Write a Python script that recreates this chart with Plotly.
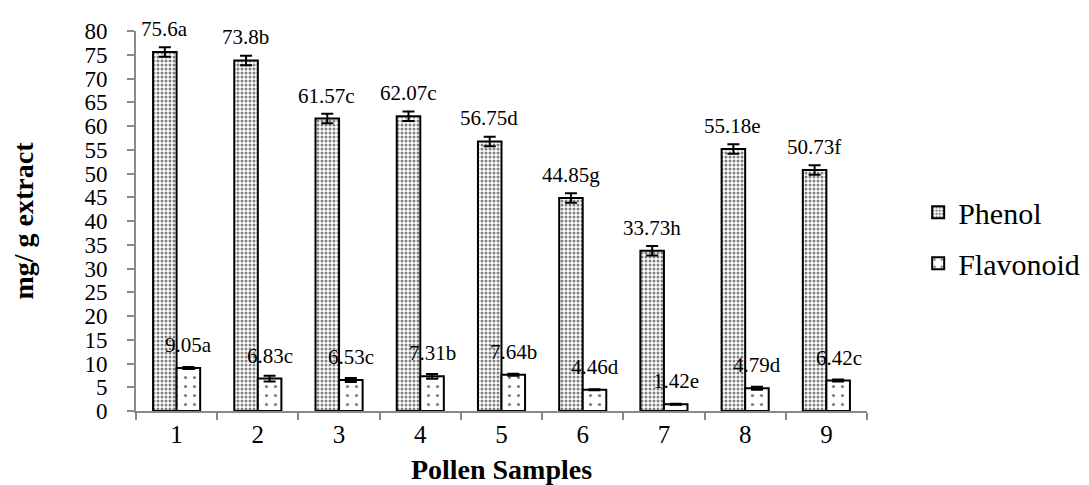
import plotly.graph_objects as go

samples = ["1", "2", "3", "4", "5", "6", "7", "8", "9"]
phenol = [75.6, 73.8, 61.57, 62.07, 56.75, 44.85, 33.73, 55.18, 50.73]
phenol_err = [1.0, 1.0, 1.0, 1.0, 1.0, 1.0, 1.0, 1.0, 1.0]
phenol_letters = ["a", "b", "c", "c", "d", "g", "h", "e", "f"]
flavonoid = [9.05, 6.83, 6.53, 7.31, 7.64, 4.46, 1.42, 4.79, 6.42]
flavonoid_err = [0.2, 0.6, 0.4, 0.5, 0.2, 0.1, 0.1, 0.3, 0.2]
flavonoid_letters = ["a", "c", "c", "b", "b", "d", "e", "d", "c"]
y_ticks = list(range(0, 81, 5))

FONT = "Liberation Serif"

fig = go.Figure()
fig.add_trace(go.Bar(
    name="Phenol", x=samples, y=phenol, legendgroup="p",
    error_y=dict(type="data", array=phenol_err, color="black", thickness=2, width=6),
    marker=dict(color="white", line=dict(color="black", width=2),
                pattern=dict(shape=".", fgcolor="black", bgcolor="white",
                             size=4, solidity=0.45, fillmode="overlay")),
))
fig.add_trace(go.Bar(
    name="Flavonoid", x=samples, y=flavonoid, legendgroup="f",
    error_y=dict(type="data", array=flavonoid_err, color="black", thickness=2, width=6),
    marker=dict(color="white", line=dict(color="black", width=2),
                pattern=dict(shape=".", fgcolor="black", bgcolor="white",
                             size=9, solidity=0.1, fillmode="overlay")),
))

annotations = []
for i, (v, l) in enumerate(zip(phenol, phenol_letters)):
    annotations.append(dict(x=i, y=v, xref="x", yref="y", text=f"{v:g}{l}",
                            showarrow=False, xshift=-12.2, yshift=23, yanchor="middle",
                            font=dict(family=FONT, size=21, color="black")))
for i, (v, l) in enumerate(zip(flavonoid, flavonoid_letters)):
    annotations.append(dict(x=i, y=v, xref="x", yref="y", text=f"{v:g}{l}",
                            showarrow=False, xshift=12.2, yshift=23, yanchor="middle",
                            font=dict(family=FONT, size=21, color="black")))

fig.update_layout(
    width=1089, height=485,
    margin=dict(l=128, r=211, t=23, b=82),
    paper_bgcolor="white", plot_bgcolor="white",
    barmode="group", bargap=0.42, bargroupgap=0,
    font=dict(family=FONT, color="black"),
    annotations=annotations,
    legend=dict(x=1.07, y=0.456, xanchor="left", yanchor="middle",
                font=dict(family=FONT, size=30, color="black"),
                tracegroupgap=9,
                bgcolor="rgba(0,0,0,0)"),
    xaxis=dict(
        type="category", range=[-0.5, 8.5], automargin=False,
        showline=True, linecolor="#898989", linewidth=2,
        ticks="outside", tickson="boundaries", ticklen=7, tickcolor="#898989", tickwidth=2,
        tickfont=dict(family=FONT, size=25, color="black"),
        title=dict(text="<b>Pollen Samples</b>", font=dict(family=FONT, size=28, color="black"), standoff=12),
        showgrid=False, zeroline=False,
    ),
    yaxis=dict(
        range=[0, 80], tickvals=y_ticks, automargin=False,
        showline=True, linecolor="#898989", linewidth=2,
        ticks="outside", ticklen=7, tickcolor="#898989", tickwidth=2,
        ticklabelstandoff=15,
        tickfont=dict(family=FONT, size=23, color="black"),
        title=dict(text="<b>mg/ g extract</b>", font=dict(family=FONT, size=28, color="black"), standoff=52),
        showgrid=False, zeroline=False,
    ),
)

fig.write_html("out.html")
